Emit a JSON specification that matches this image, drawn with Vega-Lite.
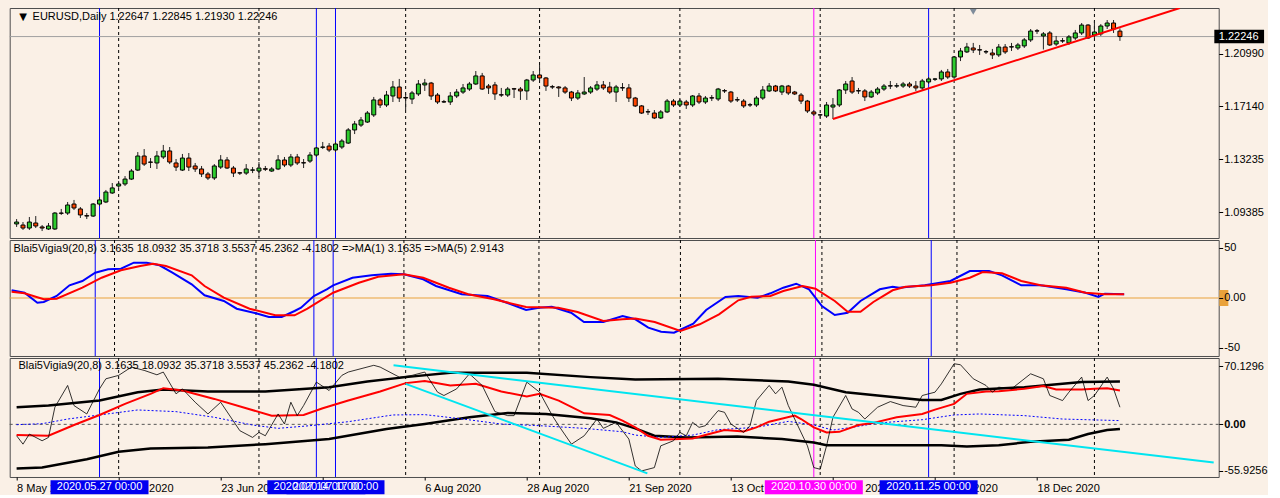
{
"$schema": "https://vega.github.io/schema/vega-lite/v6.json",
"background": "#FAF0E6",
"padding": {"left": 6.7, "top": 7, "right": 0, "bottom": 0},
"spacing": 2,
"bounds": "flush",
"config": {
 "view": {"stroke": "#4d4d4d", "strokeWidth": 1, "fill": "#FAF0E6"},
 "font": "Liberation Sans",
 "axis": {"labelFont": "Liberation Sans", "labelFontSize": 11, "labelColor": "#000000", "tickColor": "#000000", "tickSize": 3, "domain": false, "grid": false, "labelPadding": 2}
},
"datasets": {
 "candles": [
{"i":0,"o":1.0851,"h":1.0887,"l":1.0829,"c":1.0865},
{"i":1,"o":1.0843,"h":1.0865,"l":1.0807,"c":1.0821},
{"i":2,"o":1.0821,"h":1.0902,"l":1.0807,"c":1.0865},
{"i":3,"o":1.0858,"h":1.0909,"l":1.0821,"c":1.0836},
{"i":4,"o":1.0829,"h":1.0843,"l":1.0799,"c":1.0821},
{"i":5,"o":1.0814,"h":1.0858,"l":1.0807,"c":1.0836},
{"i":6,"o":1.0814,"h":1.0938,"l":1.0807,"c":1.0931},
{"i":7,"o":1.0931,"h":1.0961,"l":1.0917,"c":1.0929},
{"i":8,"o":1.0931,"h":1.1012,"l":1.0917,"c":1.0990},
{"i":9,"o":1.0997,"h":1.1027,"l":1.0953,"c":1.0968},
{"i":10,"o":1.0961,"h":1.0975,"l":1.0895,"c":1.0917},
{"i":11,"o":1.0912,"h":1.0931,"l":1.0887,"c":1.0909},
{"i":12,"o":1.0909,"h":1.1004,"l":1.0902,"c":1.0997},
{"i":13,"o":1.0997,"h":1.1048,"l":1.0982,"c":1.1027},
{"i":14,"o":1.1012,"h":1.1100,"l":1.1004,"c":1.1085},
{"i":15,"o":1.1078,"h":1.1151,"l":1.1071,"c":1.1115},
{"i":16,"o":1.1129,"h":1.1166,"l":1.1115,"c":1.1144},
{"i":17,"o":1.1144,"h":1.1202,"l":1.1129,"c":1.1180},
{"i":18,"o":1.1180,"h":1.1254,"l":1.1173,"c":1.1239},
{"i":19,"o":1.1246,"h":1.1378,"l":1.1239,"c":1.1349},
{"i":20,"o":1.1349,"h":1.1400,"l":1.1276,"c":1.1290},
{"i":21,"o":1.1305,"h":1.1334,"l":1.1261,"c":1.1303},
{"i":22,"o":1.1298,"h":1.1386,"l":1.1254,"c":1.1349},
{"i":23,"o":1.1342,"h":1.1430,"l":1.1327,"c":1.1386},
{"i":24,"o":1.1386,"h":1.1415,"l":1.1290,"c":1.1305},
{"i":25,"o":1.1298,"h":1.1327,"l":1.1239,"c":1.1268},
{"i":26,"o":1.1246,"h":1.1364,"l":1.1239,"c":1.1334},
{"i":27,"o":1.1334,"h":1.1371,"l":1.1239,"c":1.1268},
{"i":28,"o":1.1276,"h":1.1298,"l":1.1232,"c":1.1254},
{"i":29,"o":1.1254,"h":1.1276,"l":1.1195,"c":1.1217},
{"i":30,"o":1.1217,"h":1.1232,"l":1.1173,"c":1.1188},
{"i":31,"o":1.1188,"h":1.1290,"l":1.1173,"c":1.1276},
{"i":32,"o":1.1268,"h":1.1356,"l":1.1254,"c":1.1320},
{"i":33,"o":1.1320,"h":1.1342,"l":1.1254,"c":1.1261},
{"i":34,"o":1.1261,"h":1.1276,"l":1.1195,"c":1.1224},
{"i":35,"o":1.1226,"h":1.1232,"l":1.1210,"c":1.1224},
{"i":36,"o":1.1224,"h":1.1290,"l":1.1210,"c":1.1254},
{"i":37,"o":1.1245,"h":1.1268,"l":1.1224,"c":1.1247},
{"i":38,"o":1.1239,"h":1.1305,"l":1.1195,"c":1.1261},
{"i":39,"o":1.1256,"h":1.1276,"l":1.1239,"c":1.1252},
{"i":40,"o":1.1239,"h":1.1268,"l":1.1232,"c":1.1254},
{"i":41,"o":1.1254,"h":1.1356,"l":1.1246,"c":1.1320},
{"i":42,"o":1.1320,"h":1.1342,"l":1.1268,"c":1.1283},
{"i":43,"o":1.1283,"h":1.1364,"l":1.1268,"c":1.1342},
{"i":44,"o":1.1342,"h":1.1364,"l":1.1283,"c":1.1298},
{"i":45,"o":1.1300,"h":1.1327,"l":1.1261,"c":1.1298},
{"i":46,"o":1.1312,"h":1.1378,"l":1.1298,"c":1.1356},
{"i":47,"o":1.1356,"h":1.1415,"l":1.1342,"c":1.1408},
{"i":48,"o":1.1413,"h":1.1452,"l":1.1400,"c":1.1415},
{"i":49,"o":1.1422,"h":1.1444,"l":1.1378,"c":1.1393},
{"i":50,"o":1.1393,"h":1.1452,"l":1.1378,"c":1.1437},
{"i":51,"o":1.1415,"h":1.1474,"l":1.1400,"c":1.1459},
{"i":52,"o":1.1444,"h":1.1554,"l":1.1437,"c":1.1540},
{"i":53,"o":1.1540,"h":1.1606,"l":1.1510,"c":1.1584},
{"i":54,"o":1.1576,"h":1.1635,"l":1.1562,"c":1.1613},
{"i":55,"o":1.1598,"h":1.1679,"l":1.1591,"c":1.1664},
{"i":56,"o":1.1650,"h":1.1782,"l":1.1635,"c":1.1760},
{"i":57,"o":1.1760,"h":1.1774,"l":1.1701,"c":1.1723},
{"i":58,"o":1.1723,"h":1.1826,"l":1.1708,"c":1.1796},
{"i":59,"o":1.1789,"h":1.1899,"l":1.1745,"c":1.1855},
{"i":60,"o":1.1855,"h":1.1914,"l":1.1745,"c":1.1774},
{"i":61,"o":1.1778,"h":1.1804,"l":1.1686,"c":1.1774},
{"i":62,"o":1.1767,"h":1.1826,"l":1.1730,"c":1.1811},
{"i":63,"o":1.1804,"h":1.1906,"l":1.1789,"c":1.1877},
{"i":64,"o":1.1870,"h":1.1914,"l":1.1826,"c":1.1884},
{"i":65,"o":1.1884,"h":1.1892,"l":1.1760,"c":1.1789},
{"i":66,"o":1.1796,"h":1.1811,"l":1.1730,"c":1.1745},
{"i":67,"o":1.1747,"h":1.1760,"l":1.1738,"c":1.1745},
{"i":68,"o":1.1745,"h":1.1818,"l":1.1723,"c":1.1789},
{"i":69,"o":1.1789,"h":1.1840,"l":1.1774,"c":1.1818},
{"i":70,"o":1.1818,"h":1.1877,"l":1.1804,"c":1.1848},
{"i":71,"o":1.1840,"h":1.1892,"l":1.1826,"c":1.1877},
{"i":72,"o":1.1877,"h":1.1972,"l":1.1870,"c":1.1936},
{"i":73,"o":1.1936,"h":1.1958,"l":1.1833,"c":1.1840},
{"i":74,"o":1.1862,"h":1.1877,"l":1.1804,"c":1.1848},
{"i":75,"o":1.1870,"h":1.1892,"l":1.1760,"c":1.1804},
{"i":76,"o":1.1798,"h":1.1848,"l":1.1782,"c":1.1796},
{"i":77,"o":1.1796,"h":1.1855,"l":1.1782,"c":1.1840},
{"i":78,"o":1.1842,"h":1.1848,"l":1.1774,"c":1.1840},
{"i":79,"o":1.1840,"h":1.1855,"l":1.1760,"c":1.1826},
{"i":80,"o":1.1826,"h":1.1914,"l":1.1760,"c":1.1906},
{"i":81,"o":1.1906,"h":1.1972,"l":1.1892,"c":1.1943},
{"i":82,"o":1.1943,"h":1.2016,"l":1.1899,"c":1.1921},
{"i":83,"o":1.1921,"h":1.1928,"l":1.1826,"c":1.1862},
{"i":84,"o":1.1857,"h":1.1870,"l":1.1840,"c":1.1855},
{"i":85,"o":1.1855,"h":1.1862,"l":1.1782,"c":1.1848},
{"i":86,"o":1.1848,"h":1.1862,"l":1.1804,"c":1.1818},
{"i":87,"o":1.1818,"h":1.1826,"l":1.1752,"c":1.1774},
{"i":88,"o":1.1774,"h":1.1833,"l":1.1760,"c":1.1811},
{"i":89,"o":1.1804,"h":1.1928,"l":1.1796,"c":1.1818},
{"i":90,"o":1.1818,"h":1.1862,"l":1.1804,"c":1.1848},
{"i":91,"o":1.1840,"h":1.1899,"l":1.1826,"c":1.1870},
{"i":92,"o":1.1870,"h":1.1899,"l":1.1833,"c":1.1848},
{"i":93,"o":1.1855,"h":1.1892,"l":1.1804,"c":1.1818},
{"i":94,"o":1.1818,"h":1.1870,"l":1.1745,"c":1.1855},
{"i":95,"o":1.1850,"h":1.1884,"l":1.1826,"c":1.1848},
{"i":96,"o":1.1848,"h":1.1877,"l":1.1745,"c":1.1774},
{"i":97,"o":1.1774,"h":1.1782,"l":1.1708,"c":1.1716},
{"i":98,"o":1.1716,"h":1.1723,"l":1.1657,"c":1.1664},
{"i":99,"o":1.1674,"h":1.1694,"l":1.1650,"c":1.1672},
{"i":100,"o":1.1664,"h":1.1686,"l":1.1620,"c":1.1628},
{"i":101,"o":1.1628,"h":1.1686,"l":1.1620,"c":1.1672},
{"i":102,"o":1.1672,"h":1.1767,"l":1.1664,"c":1.1752},
{"i":103,"o":1.1752,"h":1.1767,"l":1.1708,"c":1.1723},
{"i":104,"o":1.1723,"h":1.1767,"l":1.1708,"c":1.1752},
{"i":105,"o":1.1745,"h":1.1760,"l":1.1694,"c":1.1723},
{"i":106,"o":1.1723,"h":1.1796,"l":1.1708,"c":1.1789},
{"i":107,"o":1.1789,"h":1.1811,"l":1.1730,"c":1.1745},
{"i":108,"o":1.1745,"h":1.1789,"l":1.1730,"c":1.1774},
{"i":109,"o":1.1776,"h":1.1796,"l":1.1752,"c":1.1774},
{"i":110,"o":1.1767,"h":1.1848,"l":1.1752,"c":1.1840},
{"i":111,"o":1.1828,"h":1.1840,"l":1.1811,"c":1.1826},
{"i":112,"o":1.1818,"h":1.1826,"l":1.1738,"c":1.1752},
{"i":113,"o":1.1762,"h":1.1782,"l":1.1745,"c":1.1760},
{"i":114,"o":1.1752,"h":1.1767,"l":1.1701,"c":1.1716},
{"i":115,"o":1.1725,"h":1.1738,"l":1.1708,"c":1.1723},
{"i":116,"o":1.1723,"h":1.1789,"l":1.1708,"c":1.1774},
{"i":117,"o":1.1774,"h":1.1862,"l":1.1760,"c":1.1833},
{"i":118,"o":1.1826,"h":1.1884,"l":1.1818,"c":1.1862},
{"i":119,"o":1.1862,"h":1.1870,"l":1.1818,"c":1.1826},
{"i":120,"o":1.1818,"h":1.1870,"l":1.1796,"c":1.1862},
{"i":121,"o":1.1862,"h":1.1870,"l":1.1796,"c":1.1811},
{"i":122,"o":1.1818,"h":1.1826,"l":1.1796,"c":1.1804},
{"i":123,"o":1.1796,"h":1.1811,"l":1.1730,"c":1.1752},
{"i":124,"o":1.1752,"h":1.1760,"l":1.1664,"c":1.1679},
{"i":125,"o":1.1672,"h":1.1686,"l":1.1642,"c":1.1657},
{"i":126,"o":1.1651,"h":1.1657,"l":1.1628,"c":1.1650},
{"i":127,"o":1.1642,"h":1.1745,"l":1.1628,"c":1.1723},
{"i":128,"o":1.1708,"h":1.1774,"l":1.1620,"c":1.1723},
{"i":129,"o":1.1723,"h":1.1840,"l":1.1708,"c":1.1833},
{"i":130,"o":1.1833,"h":1.1899,"l":1.1804,"c":1.1877},
{"i":131,"o":1.1899,"h":1.1928,"l":1.1804,"c":1.1818},
{"i":132,"o":1.1828,"h":1.1848,"l":1.1804,"c":1.1826},
{"i":133,"o":1.1826,"h":1.1840,"l":1.1752,"c":1.1782},
{"i":134,"o":1.1782,"h":1.1833,"l":1.1774,"c":1.1818},
{"i":135,"o":1.1811,"h":1.1855,"l":1.1796,"c":1.1840},
{"i":136,"o":1.1840,"h":1.1877,"l":1.1826,"c":1.1862},
{"i":137,"o":1.1864,"h":1.1899,"l":1.1840,"c":1.1862},
{"i":138,"o":1.1862,"h":1.1884,"l":1.1848,"c":1.1864},
{"i":139,"o":1.1862,"h":1.1892,"l":1.1848,"c":1.1877},
{"i":140,"o":1.1877,"h":1.1892,"l":1.1848,"c":1.1862},
{"i":141,"o":1.1862,"h":1.1899,"l":1.1826,"c":1.1848},
{"i":142,"o":1.1848,"h":1.1914,"l":1.1833,"c":1.1899},
{"i":143,"o":1.1892,"h":1.1928,"l":1.1877,"c":1.1914},
{"i":144,"o":1.1912,"h":1.1921,"l":1.1899,"c":1.1914},
{"i":145,"o":1.1914,"h":1.1980,"l":1.1899,"c":1.1965},
{"i":146,"o":1.1965,"h":1.1987,"l":1.1914,"c":1.1928},
{"i":147,"o":1.1928,"h":1.2082,"l":1.1914,"c":1.2075},
{"i":148,"o":1.2075,"h":1.2141,"l":1.2045,"c":1.2119},
{"i":149,"o":1.2112,"h":1.2178,"l":1.2104,"c":1.2148},
{"i":150,"o":1.2141,"h":1.2178,"l":1.2104,"c":1.2126},
{"i":151,"o":1.2128,"h":1.2163,"l":1.2090,"c":1.2126},
{"i":152,"o":1.2114,"h":1.2126,"l":1.2097,"c":1.2112},
{"i":153,"o":1.2104,"h":1.2134,"l":1.2060,"c":1.2090},
{"i":154,"o":1.2090,"h":1.2170,"l":1.2075,"c":1.2148},
{"i":155,"o":1.2148,"h":1.2170,"l":1.2097,"c":1.2112},
{"i":156,"o":1.2150,"h":1.2178,"l":1.2119,"c":1.2148},
{"i":157,"o":1.2141,"h":1.2178,"l":1.2126,"c":1.2163},
{"i":158,"o":1.2156,"h":1.2214,"l":1.2141,"c":1.2200},
{"i":159,"o":1.2200,"h":1.2280,"l":1.2185,"c":1.2265},
{"i":160,"o":1.2267,"h":1.2280,"l":1.2244,"c":1.2265},
{"i":161,"o":1.2229,"h":1.2258,"l":1.2130,"c":1.2244},
{"i":162,"o":1.2251,"h":1.2265,"l":1.2156,"c":1.2163},
{"i":163,"o":1.2170,"h":1.2229,"l":1.2156,"c":1.2192},
{"i":164,"o":1.2194,"h":1.2214,"l":1.2178,"c":1.2192},
{"i":165,"o":1.2178,"h":1.2236,"l":1.2163,"c":1.2222},
{"i":166,"o":1.2214,"h":1.2273,"l":1.2200,"c":1.2251},
{"i":167,"o":1.2251,"h":1.2324,"l":1.2236,"c":1.2309},
{"i":168,"o":1.2309,"h":1.2316,"l":1.2207,"c":1.2214},
{"i":169,"o":1.2236,"h":1.2339,"l":1.2214,"c":1.2258},
{"i":170,"o":1.2244,"h":1.2316,"l":1.2229,"c":1.2302},
{"i":171,"o":1.2302,"h":1.2346,"l":1.2280,"c":1.2324},
{"i":172,"o":1.2324,"h":1.2346,"l":1.2251,"c":1.2280},
{"i":173,"o":1.22647,"h":1.22845,"l":1.21930,"c":1.22246}
 ],
 "last": [{"i":173,"c":1.22246}],
 "t1": [{"t":"EURUSD,Daily  1.22647 1.22845 1.21930 1.22246"}],
 "t2": [{"t":"Blai5Vigia9(20,8) 3.1635 18.0932 35.3718 3.5537 45.2362 -4.1802  =>MA(1) 3.1635  =>MA(5) 2.9143"}],
 "t3": [{"t":"Blai5Vigia9(20,8) 3.1635 18.0932 35.3718 3.5537 45.2362 -4.1802"}],
 "grid": [{"i":16},{"i":38},{"i":61},{"i":82},{"i":104},{"i":126},{"i":147},{"i":169}],
 "vblue": [{"i":13},{"i":47},{"i":50},{"i":143}],
 "vmag": [{"i":125}],
 "boxes": [
  {"i":13,"t":"2020.05.27 00:00","k":"b"},
  {"i":47,"t":"2020.07.14 00:00","k":"b"},
  {"i":50,"t":"2020.07.17 00:00","k":"b"},
  {"i":125,"t":"2020.10.30 00:00","k":"m"},
  {"i":143,"t":"2020.11.25 00:00","k":"b"}
 ],
 "trend": [{"i":128,"p":1.1620},{"i":182.4,"p":1.2434}],
 "shift": [{"i":150,"p":1.2405}],
 "zero": [{"v":0}],
 "midBlue": [
{"i":0,"v":7.7},{"i":2,"v":5.3},{"i":4,"v":-4.7},{"i":5,"v":-4},{"i":7,"v":2},{"i":9,"v":12.7},{"i":11,"v":17},{"i":13,"v":25.3},{"i":15,"v":28.7},{"i":17,"v":29.3},{"i":19,"v":35.3},{"i":21,"v":35.3},{"i":23,"v":32.7},{"i":25,"v":25.3},{"i":28,"v":13.7},{"i":30,"v":2.7},{"i":33,"v":-3},{"i":35,"v":-10.7},{"i":38,"v":-15.3},{"i":40,"v":-19},{"i":42,"v":-19},{"i":44,"v":-13},{"i":45,"v":-9.7},{"i":47,"v":2},{"i":49,"v":8.7},{"i":50,"v":12.7},{"i":53,"v":20.3},{"i":56,"v":22.7},{"i":59,"v":24.3},{"i":61,"v":23.7},{"i":64,"v":18.7},{"i":66,"v":12},{"i":70,"v":3.7},{"i":74,"v":2},{"i":77,"v":-4.7},{"i":80,"v":-12},{"i":82,"v":-9.7},{"i":84,"v":-8.7},{"i":87,"v":-14.7},{"i":89,"v":-24},{"i":92,"v":-24},{"i":95,"v":-18},{"i":97,"v":-21.3},{"i":99,"v":-29.7},{"i":101,"v":-33.7},{"i":103,"v":-34.7},{"i":106,"v":-25.7},{"i":108,"v":-12},{"i":111,"v":1},{"i":113,"v":2},{"i":116,"v":0.3},{"i":118,"v":4.7},{"i":120,"v":10.3},{"i":122,"v":14.3},{"i":124,"v":8.7},{"i":126,"v":-8},{"i":128,"v":-17},{"i":130,"v":-14.7},{"i":132,"v":-3},{"i":135,"v":8.7},{"i":137,"v":11.3},{"i":138,"v":10.3},{"i":142,"v":12.7},{"i":146,"v":17},{"i":149,"v":27},{"i":152,"v":27},{"i":154,"v":22.7},{"i":157,"v":12.7},{"i":160,"v":12.7},{"i":164,"v":8.7},{"i":167,"v":5.3},{"i":169,"v":1},{"i":170,"v":4.3},{"i":173,"v":3.7}
 ],
 "midRed": [
{"i":0,"v":6.3},{"i":2,"v":4.7},{"i":5,"v":-1.3},{"i":7,"v":-0.7},{"i":11,"v":10.3},{"i":14,"v":20.3},{"i":17,"v":27.7},{"i":20,"v":32},{"i":22,"v":34.3},{"i":24,"v":32},{"i":28,"v":22.7},{"i":30,"v":12},{"i":33,"v":0.3},{"i":37,"v":-10.7},{"i":41,"v":-17.3},{"i":44,"v":-17.3},{"i":46,"v":-10.7},{"i":50,"v":5.3},{"i":54,"v":15.3},{"i":57,"v":21.3},{"i":61,"v":23.7},{"i":64,"v":20.3},{"i":68,"v":10.3},{"i":71,"v":3.7},{"i":75,"v":-1.3},{"i":80,"v":-9},{"i":85,"v":-9.7},{"i":88,"v":-14},{"i":92,"v":-23},{"i":95,"v":-21.3},{"i":97,"v":-20.5},{"i":100,"v":-24},{"i":104,"v":-33},{"i":107,"v":-26.3},{"i":110,"v":-16.3},{"i":113,"v":-2.3},{"i":115,"v":1.3},{"i":118,"v":2},{"i":120,"v":7},{"i":123,"v":12},{"i":125,"v":9.3},{"i":128,"v":-3},{"i":130,"v":-13.7},{"i":132,"v":-13.7},{"i":134,"v":-4},{"i":137,"v":7.7},{"i":139,"v":11.3},{"i":143,"v":12.7},{"i":146,"v":15.3},{"i":149,"v":20.3},{"i":151,"v":26},{"i":154,"v":24.7},{"i":157,"v":17},{"i":160,"v":12.7},{"i":164,"v":10.3},{"i":167,"v":5.3},{"i":170,"v":3.7},{"i":173,"v":3.7}
 ],
 "up": [
{"i":0,"v":20.6},{"i":5,"v":22.6},{"i":13,"v":28.6},{"i":19,"v":38.7},{"i":23,"v":42},{"i":30,"v":39.5},{"i":39,"v":39.5},{"i":49,"v":44.7},{"i":55,"v":51.6},{"i":61,"v":56.8},{"i":68,"v":62},{"i":80,"v":62},{"i":90,"v":56.8},{"i":97,"v":54},{"i":110,"v":54.8},{"i":121,"v":51.6},{"i":125,"v":47.6},{"i":130,"v":38.7},{"i":135,"v":34.7},{"i":142,"v":29.4},{"i":145,"v":29.4},{"i":148,"v":36.7},{"i":151,"v":42},{"i":158,"v":44.7},{"i":164,"v":48.7},{"i":167,"v":50.8},{"i":173,"v":51.6}
 ],
 "lo": [
{"i":0,"v":-53.2},{"i":4,"v":-52},{"i":11,"v":-42},{"i":16,"v":-33},{"i":21,"v":-29},{"i":30,"v":-27.8},{"i":39,"v":-23.8},{"i":49,"v":-17.7},{"i":58,"v":-5.6},{"i":64,"v":0.4},{"i":71,"v":8.5},{"i":77,"v":13.7},{"i":83,"v":12.5},{"i":90,"v":7.3},{"i":94,"v":2.4},{"i":97,"v":-4.8},{"i":100,"v":-13.7},{"i":105,"v":-15.7},{"i":113,"v":-14.5},{"i":120,"v":-17.7},{"i":125,"v":-21.8},{"i":127,"v":-25},{"i":135,"v":-25},{"i":145,"v":-25},{"i":149,"v":-26.6},{"i":154,"v":-25},{"i":159,"v":-21},{"i":165,"v":-18.5},{"i":168,"v":-11.7},{"i":171,"v":-6.9},{"i":173,"v":-5.6}
 ],
 "r2": [
{"i":0,"v":-12.9},{"i":5,"v":-13.7},{"i":9,"v":-0.8},{"i":13,"v":11.3},{"i":17,"v":24.6},{"i":21,"v":36.7},{"i":23,"v":43.5},{"i":26,"v":40.7},{"i":31,"v":30.6},{"i":36,"v":19.3},{"i":40,"v":10.5},{"i":45,"v":11.3},{"i":48,"v":19.3},{"i":52,"v":28.6},{"i":57,"v":39.5},{"i":61,"v":49.6},{"i":64,"v":52},{"i":68,"v":46.8},{"i":72,"v":48.7},{"i":76,"v":39.5},{"i":80,"v":33.5},{"i":82,"v":36.7},{"i":85,"v":28.6},{"i":89,"v":13.3},{"i":93,"v":11.3},{"i":95,"v":4.5},{"i":97,"v":-3.6},{"i":99,"v":-13.7},{"i":101,"v":-18.5},{"i":106,"v":-17},{"i":108,"v":-12.9},{"i":111,"v":-6.9},{"i":114,"v":-8.5},{"i":116,"v":-3.6},{"i":118,"v":3.2},{"i":122,"v":10.5},{"i":123,"v":6.4},{"i":125,"v":-3.6},{"i":127,"v":-9.7},{"i":129,"v":-9},{"i":132,"v":-0.8},{"i":134,"v":1.2},{"i":138,"v":8.5},{"i":142,"v":12.5},{"i":144,"v":17.7},{"i":147,"v":24.6},{"i":149,"v":36.7},{"i":152,"v":39.5},{"i":154,"v":39.9},{"i":158,"v":42.7},{"i":161,"v":46},{"i":163,"v":42},{"i":167,"v":42},{"i":169,"v":42.7},{"i":171,"v":43.5},{"i":173,"v":40.7}
 ],
 "b2": [
{"i":0,"v":-0.4},{"i":4,"v":0.8},{"i":8,"v":6.4},{"i":13,"v":11.3},{"i":19,"v":17.3},{"i":25,"v":15.3},{"i":31,"v":8.5},{"i":37,"v":-0.8},{"i":41,"v":-4.8},{"i":46,"v":-1.6},{"i":52,"v":3.2},{"i":59,"v":11.3},{"i":64,"v":11.7},{"i":70,"v":6.4},{"i":76,"v":0.4},{"i":82,"v":-1.6},{"i":89,"v":-4.8},{"i":95,"v":-8.9},{"i":97,"v":-12.9},{"i":101,"v":-15.7},{"i":106,"v":-12.9},{"i":110,"v":-6.4},{"i":116,"v":-3.6},{"i":121,"v":3.6},{"i":125,"v":-0.8},{"i":128,"v":-6.9},{"i":132,"v":-2.4},{"i":135,"v":1.6},{"i":142,"v":5.6},{"i":147,"v":11.3},{"i":151,"v":12.5},{"i":158,"v":10.5},{"i":164,"v":6.4},{"i":173,"v":4.5}
 ],
 "osc": [
{"i":0,"v":-13.7},{"i":1,"v":-23.8},{"i":2,"v":-11.7},{"i":4,"v":-19.7},{"i":5,"v":-15.7},{"i":6,"v":20.6},{"i":8,"v":46.8},{"i":9,"v":22.6},{"i":11,"v":12.5},{"i":13,"v":42.7},{"i":14,"v":54.8},{"i":16,"v":58.9},{"i":18,"v":68.9},{"i":20,"v":64.9},{"i":22,"v":59.6},{"i":23,"v":62.9},{"i":25,"v":36.7},{"i":26,"v":42.7},{"i":28,"v":26.6},{"i":30,"v":12.5},{"i":32,"v":26.6},{"i":35,"v":-7.6},{"i":37,"v":-15.7},{"i":38,"v":-9.7},{"i":39,"v":-13.7},{"i":41,"v":12.5},{"i":42,"v":0.4},{"i":43,"v":26.6},{"i":44,"v":10.5},{"i":45,"v":22.6},{"i":47,"v":50.8},{"i":49,"v":40.7},{"i":51,"v":58.9},{"i":52,"v":62.9},{"i":56,"v":71},{"i":57,"v":68.9},{"i":60,"v":56.8},{"i":62,"v":58.9},{"i":64,"v":62.9},{"i":66,"v":38.7},{"i":67,"v":34.7},{"i":69,"v":42.7},{"i":71,"v":60.8},{"i":73,"v":46.8},{"i":75,"v":15.3},{"i":77,"v":10.5},{"i":78,"v":10.5},{"i":80,"v":50.8},{"i":82,"v":38.7},{"i":84,"v":10.5},{"i":85,"v":-1.6},{"i":87,"v":-23.8},{"i":89,"v":-13.7},{"i":91,"v":6.4},{"i":92,"v":-4.8},{"i":94,"v":2.4},{"i":96,"v":-17.7},{"i":97,"v":-50},{"i":98,"v":-56},{"i":100,"v":-52},{"i":101,"v":-25.8},{"i":103,"v":-19.7},{"i":104,"v":-9.7},{"i":105,"v":-13.7},{"i":106,"v":2.4},{"i":107,"v":-3.6},{"i":108,"v":-1.6},{"i":110,"v":16.5},{"i":111,"v":14.5},{"i":112,"v":0.4},{"i":114,"v":-9.7},{"i":115,"v":-1.6},{"i":116,"v":28.6},{"i":118,"v":46.8},{"i":119,"v":36.7},{"i":120,"v":44.7},{"i":121,"v":22.6},{"i":122,"v":6.4},{"i":124,"v":-25.8},{"i":125,"v":-52},{"i":126,"v":-54},{"i":127,"v":-25.8},{"i":128,"v":8.5},{"i":130,"v":34.7},{"i":131,"v":18.5},{"i":132,"v":14.5},{"i":133,"v":6.4},{"i":135,"v":20.6},{"i":137,"v":27.4},{"i":139,"v":22.6},{"i":141,"v":20.6},{"i":142,"v":34.7},{"i":144,"v":38.7},{"i":145,"v":48.7},{"i":147,"v":72.9},{"i":148,"v":71.7},{"i":150,"v":54.8},{"i":152,"v":46.8},{"i":153,"v":38.7},{"i":154,"v":44.7},{"i":156,"v":42.7},{"i":159,"v":60.8},{"i":161,"v":54.8},{"i":162,"v":34.7},{"i":164,"v":28.6},{"i":165,"v":38.7},{"i":167,"v":56.8},{"i":168,"v":28.6},{"i":169,"v":34.7},{"i":171,"v":56.8},{"i":172,"v":42.7},{"i":173,"v":20.6}
 ],
 "cyan": [
  {"g":"a","i":59.1,"v":71},{"g":"a","i":187.7,"v":-46},
  {"g":"b","i":61,"v":48.7},{"g":"b","i":98.9,"v":-59}
 ]
},
"vconcat": [
 {
  "width": 1209, "height": 230,
  "resolve": {"axis": {"x": "independent", "y": "independent"}},
  "layer": [
   {"data": {"name": "grid"}, "mark": {"type": "rule", "color": "#000000", "strokeDash": [3, 3], "strokeWidth": 1},
    "encoding": {"x": {"field": "i", "type": "quantitative", "scale": {"domain": [-0.3, 187.7], "nice": false, "zero": false}, "axis": null}}},
   {"data": {"name": "vblue"}, "mark": {"type": "rule", "color": "#0000FF", "strokeWidth": 1},
    "encoding": {"x": {"field": "i", "type": "quantitative", "scale": {"domain": [-0.3, 187.7], "nice": false, "zero": false}, "axis": null}}},
   {"data": {"name": "vmag"}, "mark": {"type": "rule", "color": "#FF00FF", "strokeWidth": 1},
    "encoding": {"x": {"field": "i", "type": "quantitative", "scale": {"domain": [-0.3, 187.7], "nice": false, "zero": false}, "axis": null}}},
   {"data": {"name": "last"}, "mark": {"type": "rule", "color": "#A0A0A0", "strokeWidth": 1},
    "encoding": {"y": {"field": "c", "type": "quantitative", "scale": {"domain": [1.0748, 1.2434], "nice": false, "zero": false}, "axis": null}}},
   {"data": {"name": "candles"}, "mark": {"type": "rule", "color": "#222222", "strokeWidth": 1},
    "encoding": {
     "x": {"field": "i", "type": "quantitative", "scale": {"domain": [-0.3, 187.7], "nice": false, "zero": false}, "axis": null},
     "y": {"field": "l", "type": "quantitative", "scale": {"domain": [1.0748, 1.2434], "nice": false, "zero": false},
           "axis": {"orient": "right", "values": [1.2099, 1.1714, 1.13235, 1.09385], "format": ".5f", "title": null, "tickSize": 4, "labelPadding": 1}},
     "y2": {"field": "h"}}},
   {"data": {"name": "candles"}, "mark": {"type": "bar", "size": 4, "stroke": "#000000", "strokeWidth": 1},
    "encoding": {
     "x": {"field": "i", "type": "quantitative", "scale": {"domain": [-0.3, 187.7], "nice": false, "zero": false}, "axis": null},
     "y": {"field": "o", "type": "quantitative", "scale": {"domain": [1.0748, 1.2434], "nice": false, "zero": false}, "axis": null},
     "y2": {"field": "c"},
     "color": {"condition": {"test": "datum.c >= datum.o", "value": "#2ECC2E"}, "value": "#FF4500"}}},
   {"data": {"name": "trend"}, "mark": {"type": "line", "color": "#FF0000", "strokeWidth": 2, "clip": true},
    "encoding": {
     "x": {"field": "i", "type": "quantitative", "scale": {"domain": [-0.3, 187.7], "nice": false, "zero": false}, "axis": null},
     "y": {"field": "p", "type": "quantitative", "scale": {"domain": [1.0748, 1.2434], "nice": false, "zero": false}, "axis": null}}},
   {"data": {"name": "shift"}, "mark": {"type": "point", "shape": "triangle-down", "filled": true, "size": 45, "color": "#7F8C9A", "opacity": 1},
    "encoding": {
     "x": {"field": "i", "type": "quantitative", "scale": {"domain": [-0.3, 187.7], "nice": false, "zero": false}, "axis": null},
     "y": {"field": "p", "type": "quantitative", "scale": {"domain": [1.0748, 1.2434], "nice": false, "zero": false}, "axis": null}}},
   {"data": {"name": "t1"}, "mark": {"type": "text", "text": "▼", "font": "DejaVu Sans", "fontSize": 10, "align": "center", "baseline": "middle", "color": "#000000"},
    "encoding": {
     "x": {"datum": 1.0, "type": "quantitative", "scale": {"domain": [-0.3, 187.7], "nice": false, "zero": false}, "axis": null},
     "y": {"datum": 1.2370, "type": "quantitative", "scale": {"domain": [1.0748, 1.2434], "nice": false, "zero": false}, "axis": null}}},
   {"data": {"name": "t1"}, "mark": {"type": "text", "font": "Liberation Sans", "fontSize": 11, "align": "left", "baseline": "middle", "color": "#000000"},
    "encoding": {
     "x": {"datum": 2.5, "type": "quantitative", "scale": {"domain": [-0.3, 187.7], "nice": false, "zero": false}, "axis": null},
     "y": {"datum": 1.2368, "type": "quantitative", "scale": {"domain": [1.0748, 1.2434], "nice": false, "zero": false}, "axis": null},
     "text": {"field": "t", "type": "nominal"}}},
   {"data": {"name": "last"}, "mark": {"type": "bar", "color": "#000000"},
    "encoding": {
     "x": {"datum": 187.8, "type": "quantitative", "scale": {"domain": [-0.3, 187.7], "nice": false, "zero": false}, "axis": null},
     "x2": {"datum": 195.6},
     "y": {"datum": 1.2275, "type": "quantitative", "scale": {"domain": [1.0748, 1.2434], "nice": false, "zero": false}, "axis": null},
     "y2": {"datum": 1.2175}}},
   {"data": {"name": "last"}, "mark": {"type": "text", "color": "#FFFFFF", "fontSize": 11, "align": "left", "baseline": "middle", "font": "Liberation Sans"},
    "encoding": {
     "x": {"datum": 188.5, "type": "quantitative", "scale": {"domain": [-0.3, 187.7], "nice": false, "zero": false}, "axis": null},
     "y": {"field": "c", "type": "quantitative", "scale": {"domain": [1.0748, 1.2434], "nice": false, "zero": false}, "axis": null},
     "text": {"field": "c", "type": "quantitative", "format": ".5f"}}}
  ]
 },
 {
  "width": 1209, "height": 116,
  "resolve": {"axis": {"x": "independent", "y": "independent"}},
  "layer": [
   {"data": {"name": "grid"}, "mark": {"type": "rule", "color": "#000000", "strokeDash": [3, 3], "strokeWidth": 1},
    "encoding": {"x": {"field": "i", "type": "quantitative", "scale": {"domain": [-0.3, 187.7], "nice": false, "zero": false}, "axis": null}}},
   {"data": {"name": "vblue"}, "mark": {"type": "rule", "color": "#0000FF", "strokeWidth": 1},
    "encoding": {"x": {"field": "i", "type": "quantitative", "scale": {"domain": [-0.3, 187.7], "nice": false, "zero": false}, "axis": null}}},
   {"data": {"name": "vmag"}, "mark": {"type": "rule", "color": "#FF00FF", "strokeWidth": 1},
    "encoding": {"x": {"field": "i", "type": "quantitative", "scale": {"domain": [-0.3, 187.7], "nice": false, "zero": false}, "axis": null}}},
   {"data": {"name": "zero"}, "mark": {"type": "rule", "color": "#E9A23B", "strokeWidth": 1},
    "encoding": {"y": {"field": "v", "type": "quantitative", "scale": {"domain": [-58, 58], "nice": false, "zero": false}, "axis": null}}},
   {"data": {"name": "midBlue"}, "mark": {"type": "line", "color": "#0000FF", "strokeWidth": 2},
    "encoding": {
     "x": {"field": "i", "type": "quantitative", "scale": {"domain": [-0.3, 187.7], "nice": false, "zero": false}, "axis": null},
     "y": {"field": "v", "type": "quantitative", "scale": {"domain": [-58, 58], "nice": false, "zero": false},
           "axis": {"orient": "right", "values": [50, 0, -50], "labelExpr": "datum.value === 0 ? '0.00' : (datum.value > 0 ? '50' : '-50')", "title": null, "tickSize": 4, "labelPadding": 1, "zindex": 1}}}},
   {"data": {"name": "midRed"}, "mark": {"type": "line", "color": "#FF0000", "strokeWidth": 2},
    "encoding": {
     "x": {"field": "i", "type": "quantitative", "scale": {"domain": [-0.3, 187.7], "nice": false, "zero": false}, "axis": null},
     "y": {"field": "v", "type": "quantitative", "scale": {"domain": [-58, 58], "nice": false, "zero": false}, "axis": null}}},
   {"data": {"name": "t2"}, "mark": {"type": "text", "font": "Liberation Sans", "fontSize": 11, "align": "left", "baseline": "middle", "color": "#000000"},
    "encoding": {
     "x": {"datum": 0.3, "type": "quantitative", "scale": {"domain": [-0.3, 187.7], "nice": false, "zero": false}, "axis": null},
     "y": {"datum": 49, "type": "quantitative", "scale": {"domain": [-58, 58], "nice": false, "zero": false}, "axis": null},
     "text": {"field": "t", "type": "nominal"}}},
   {"data": {"name": "zero"}, "mark": {"type": "bar", "color": "#E9A23B"},
    "encoding": {
     "x": {"datum": 187.8, "type": "quantitative", "scale": {"domain": [-0.3, 187.7], "nice": false, "zero": false}, "axis": null},
     "x2": {"datum": 189.2},
     "y": {"datum": 8, "type": "quantitative", "scale": {"domain": [-58, 58], "nice": false, "zero": false}, "axis": null},
     "y2": {"datum": -8}}}
  ]
 },
 {
  "width": 1209, "height": 119,
  "resolve": {"axis": {"x": "independent", "y": "independent"}},
  "layer": [
   {"data": {"name": "grid"}, "mark": {"type": "rule", "color": "#000000", "strokeDash": [3, 3], "strokeWidth": 1},
    "encoding": {"x": {"field": "i", "type": "quantitative", "scale": {"domain": [-0.3, 187.7], "nice": false, "zero": false},
      "axis": {"orient": "bottom", "values": [0, 16, 32, 48, 64, 80, 96, 112, 128, 144, 160], "labelAlign": "left", "labelExpr": "['8 May 2020','1 Jun 2020','23 Jun 2020','15 Jul 2020','6 Aug 2020','28 Aug 2020','21 Sep 2020','13 Oct 2020','4 Nov 2020','26 Nov 2020','18 Dec 2020'][round(datum.value/16)]", "title": null, "tickSize": 3, "labelPadding": 3, "labelFlush": false, "labelOverlap": false, "labelBound": false}}}},
   {"data": {"name": "vblue"}, "mark": {"type": "rule", "color": "#0000FF", "strokeWidth": 1},
    "encoding": {"x": {"field": "i", "type": "quantitative", "scale": {"domain": [-0.3, 187.7], "nice": false, "zero": false}, "axis": null}}},
   {"data": {"name": "vmag"}, "mark": {"type": "rule", "color": "#FF00FF", "strokeWidth": 1},
    "encoding": {"x": {"field": "i", "type": "quantitative", "scale": {"domain": [-0.3, 187.7], "nice": false, "zero": false}, "axis": null}}},
   {"data": {"name": "zero"}, "mark": {"type": "rule", "color": "#555555", "strokeWidth": 1, "strokeDash": [3, 3]},
    "encoding": {"y": {"field": "v", "type": "quantitative", "scale": {"domain": [-63.3, 79.8], "nice": false, "zero": false},
      "axis": {"orient": "right", "values": [70.1296, 0, -55.9256], "labelExpr": "datum.value === 0 ? '0.00' : (datum.value > 0 ? '70.1296' : '-55.9256')", "labelFontWeight": {"condition": {"test": "datum.value === 0", "value": "bold"}, "value": "normal"}, "title": null, "tickSize": 4, "labelPadding": 1}}}},
   {"data": {"name": "up"}, "mark": {"type": "line", "color": "#000000", "strokeWidth": 2.5, "clip": true},
    "encoding": {
     "x": {"field": "i", "type": "quantitative", "scale": {"domain": [-0.3, 187.7], "nice": false, "zero": false}, "axis": null},
     "y": {"field": "v", "type": "quantitative", "scale": {"domain": [-63.3, 79.8], "nice": false, "zero": false}, "axis": null}}},
   {"data": {"name": "lo"}, "mark": {"type": "line", "color": "#000000", "strokeWidth": 2.5, "clip": true},
    "encoding": {
     "x": {"field": "i", "type": "quantitative", "scale": {"domain": [-0.3, 187.7], "nice": false, "zero": false}, "axis": null},
     "y": {"field": "v", "type": "quantitative", "scale": {"domain": [-63.3, 79.8], "nice": false, "zero": false}, "axis": null}}},
   {"data": {"name": "b2"}, "mark": {"type": "line", "color": "#0000FF", "strokeWidth": 1, "strokeDash": [2, 2], "clip": true},
    "encoding": {
     "x": {"field": "i", "type": "quantitative", "scale": {"domain": [-0.3, 187.7], "nice": false, "zero": false}, "axis": null},
     "y": {"field": "v", "type": "quantitative", "scale": {"domain": [-63.3, 79.8], "nice": false, "zero": false}, "axis": null}}},
   {"data": {"name": "r2"}, "mark": {"type": "line", "color": "#FF0000", "strokeWidth": 2, "clip": true},
    "encoding": {
     "x": {"field": "i", "type": "quantitative", "scale": {"domain": [-0.3, 187.7], "nice": false, "zero": false}, "axis": null},
     "y": {"field": "v", "type": "quantitative", "scale": {"domain": [-63.3, 79.8], "nice": false, "zero": false}, "axis": null}}},
   {"data": {"name": "osc"}, "mark": {"type": "line", "color": "#000000", "strokeWidth": 0.8, "clip": true},
    "encoding": {
     "x": {"field": "i", "type": "quantitative", "scale": {"domain": [-0.3, 187.7], "nice": false, "zero": false}, "axis": null},
     "y": {"field": "v", "type": "quantitative", "scale": {"domain": [-63.3, 79.8], "nice": false, "zero": false}, "axis": null}}},
   {"data": {"name": "cyan"}, "mark": {"type": "line", "color": "#00E5F0", "strokeWidth": 2, "clip": true},
    "encoding": {
     "x": {"field": "i", "type": "quantitative", "scale": {"domain": [-0.3, 187.7], "nice": false, "zero": false}, "axis": null},
     "y": {"field": "v", "type": "quantitative", "scale": {"domain": [-63.3, 79.8], "nice": false, "zero": false}, "axis": null},
     "detail": {"field": "g", "type": "nominal"}}},
   {"data": {"name": "t3"}, "mark": {"type": "text", "font": "Liberation Sans", "fontSize": 11, "align": "left", "baseline": "middle", "color": "#000000"},
    "encoding": {
     "x": {"datum": 0.3, "type": "quantitative", "scale": {"domain": [-0.3, 187.7], "nice": false, "zero": false}, "axis": null},
     "y": {"datum": 69.6, "type": "quantitative", "scale": {"domain": [-63.3, 79.8], "nice": false, "zero": false}, "axis": null},
     "text": {"field": "t", "type": "nominal"}}},
   {"data": {"name": "boxes"}, "mark": {"type": "bar", "size": 98},
    "encoding": {
     "x": {"field": "i", "type": "quantitative", "scale": {"domain": [-0.3, 187.7], "nice": false, "zero": false}, "axis": null},
     "y": {"datum": -67.2, "type": "quantitative", "scale": {"domain": [-63.3, 79.8], "nice": false, "zero": false}, "axis": null},
     "y2": {"datum": -84},
     "color": {"condition": {"test": "datum.k === 'm'", "value": "#FF00FF"}, "value": "#0000F0"}}},
   {"data": {"name": "boxes"}, "mark": {"type": "text", "color": "#FFFFFF", "fontSize": 11, "align": "center", "baseline": "middle", "font": "Liberation Sans"},
    "encoding": {
     "x": {"field": "i", "type": "quantitative", "scale": {"domain": [-0.3, 187.7], "nice": false, "zero": false}, "axis": null},
     "y": {"datum": -75.6, "type": "quantitative", "scale": {"domain": [-63.3, 79.8], "nice": false, "zero": false}, "axis": null},
     "text": {"field": "t", "type": "nominal"}}}
  ]
 }
]
}
